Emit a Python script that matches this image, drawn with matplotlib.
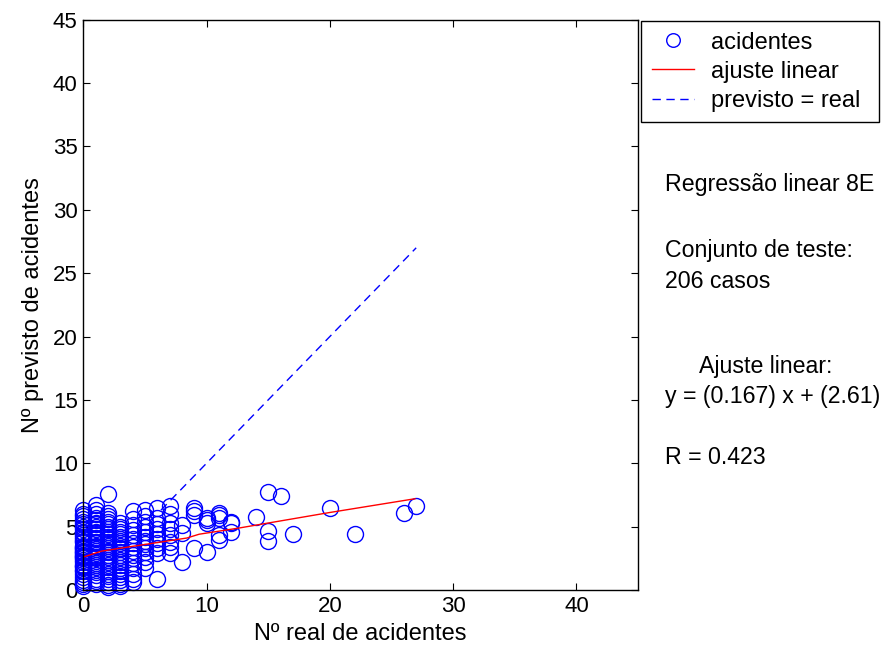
import matplotlib
matplotlib.use('Agg')
import matplotlib.pyplot as plt

plt.rcParams['font.family'] = ['Liberation Sans', 'DejaVu Sans']

# predicted values grouped by real number of accidents
pred_by_real = {
    0: [0.3, 0.5, 0.6, 0.8, 1.0, 1.3, 1.5, 1.6, 1.8, 1.9, 2.0, 2.2, 2.4, 2.5, 2.6, 2.7, 2.8,
        2.9, 3.0, 3.1, 3.2, 3.3, 3.4, 3.5, 3.8, 3.9, 4.0, 4.2, 4.3, 4.5, 4.6, 4.8, 5.0, 5.2,
        5.4, 5.6, 5.8, 6.0, 6.3],
    1: [0.5, 0.7, 0.9, 1.2, 1.4, 1.6, 1.8, 2.0, 2.1, 2.3, 2.5, 2.6, 2.8, 2.9, 3.1, 3.2, 3.4,
        3.5, 3.7, 3.8, 4.0, 4.1, 4.3, 4.5, 4.6, 4.8, 5.0, 5.2, 5.3, 5.5, 5.7, 6.0, 6.3, 6.7],
    2: [0.2, 0.4, 0.6, 0.9, 1.1, 1.3, 1.5, 1.8, 2.0, 2.2, 2.4, 2.6, 2.8, 3.0, 3.1, 3.3, 3.5,
        3.6, 3.8, 4.0, 4.2, 4.4, 4.6, 4.8, 5.0, 5.2, 5.4, 5.6, 5.8, 6.1, 7.6],
    3: [0.3, 0.5, 0.8, 1.0, 1.3, 1.5, 1.7, 2.0, 2.2, 2.4, 2.6, 2.8, 3.0, 3.2, 3.3, 3.5, 3.7,
        3.9, 4.0, 4.2, 4.4, 4.6, 4.8, 5.0, 5.3],
    4: [0.6, 0.9, 1.3, 1.7, 2.1, 2.5, 2.8, 3.1, 3.4, 3.7, 4.0, 4.3, 4.7, 5.1, 5.6, 6.2],
    5: [1.7, 2.2, 2.6, 3.0, 3.3, 3.6, 3.9, 4.2, 4.6, 5.0, 5.4, 5.8, 6.3],
    6: [0.9, 2.9, 3.3, 3.7, 4.0, 4.4, 4.8, 5.2, 5.7, 6.5],
    7: [2.9, 3.4, 3.8, 4.3, 4.8, 5.3, 6.0, 6.6],
    8: [2.2, 4.5, 5.1],
    9: [3.3, 5.9, 6.2, 6.5],
    10: [3.0, 5.3, 5.5, 5.7],
    11: [3.95, 4.3, 5.7, 5.9, 6.05],
    12: [4.6, 5.3, 5.35],
    14: [5.75],
    15: [3.87, 4.65, 7.7],
    16: [7.4],
    17: [4.45],
    20: [6.5],
    22: [4.45],
    26: [6.1],
    27: [6.65],
}

real = []
pred = []
for k, vals in pred_by_real.items():
    for v in vals:
        real.append(k)
        pred.append(v)

fit_x = [0, 1.5, 8.4, 9.4, 12.7, 19.9, 26.9]
fit_y = [2.6, 3.07, 4.1, 4.4, 4.9, 6.1, 7.2]

ident = [6.3, 27]

fig = plt.figure(figsize=(8.95, 6.57), dpi=100)
ax = fig.add_axes([0.093, 0.102, 0.620, 0.868])

ax.plot(real, pred, 'o', mfc='none', mec='#0000ff', ms=11.5, mew=1.0, label='acidentes',
        clip_on=False)
ax.plot(fit_x, fit_y, '-', color='#ff0000', lw=1.0, label='ajuste linear')
ax.plot(ident, ident, '--', color='#0000ff', lw=1.0, dashes=(6, 4), label='previsto = real')

ax.set_xlim(0, 45)
ax.set_ylim(0, 45)
ax.set_xticks([0, 10, 20, 30, 40])
ax.set_yticks(range(0, 46, 5))
ax.tick_params(direction='in', top=True, right=True, length=5, labelsize=16, pad=4)
for s in ax.spines.values():
    s.set_linewidth(1.0)

ax.set_xlabel('Nº real de acidentes', fontsize=17, labelpad=5)
ax.set_ylabel('Nº previsto de acidentes', fontsize=17, labelpad=6)


def fy(p):
    return 1 - p / 657


leg = fig.legend(loc='upper left', bbox_to_anchor=(641 / 895, fy(120), 238 / 895, 99 / 657),
                 mode='expand', fontsize=17, fancybox=False, framealpha=1, edgecolor='black',
                 borderpad=0.45, labelspacing=0.3, handlelength=1.8, handletextpad=0.7,
                 borderaxespad=0, markerscale=0.85)
leg.get_frame().set_linewidth(1.0)

fig.text(665 / 895, fy(185), 'Regressão linear 8E', fontsize=16.7, va='center')
fig.text(665 / 895, fy(250), 'Conjunto de teste:', fontsize=16.7, va='center')
fig.text(665 / 895, fy(281), '206 casos', fontsize=16.7, va='center')
fig.text(766 / 895, fy(366), 'Ajuste linear:', fontsize=16.7, va='center', ha='center')
fig.text(665 / 895, fy(397), 'y = (0.167) x + (2.61)', fontsize=16.7, va='center')
fig.text(665 / 895, fy(457), 'R = 0.423', fontsize=16.7, va='center')

fig.savefig('out.png', dpi=100)
